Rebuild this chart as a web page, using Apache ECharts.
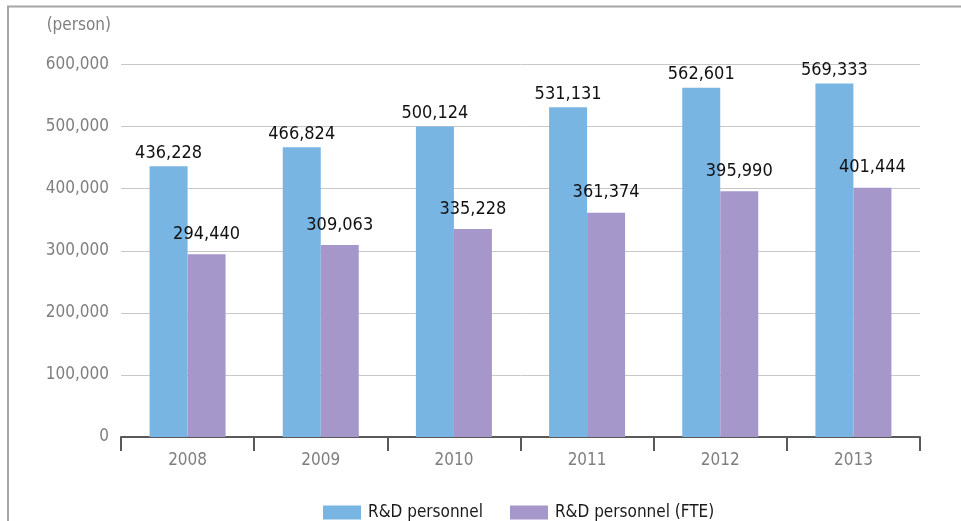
<!DOCTYPE html>
<html>
<head>
<meta charset="utf-8">
<script src="https://cdn.jsdelivr.net/npm/echarts@6/dist/echarts.min.js"></script>
<style>
  html, body { margin: 0; padding: 0; background: #fff; }
  #chart { width: 961px; height: 521px; }
</style>
</head>
<body>
<div id="chart"></div>
<script>
// Yearly R&D personnel headcount and full-time equivalent
const years = ['2008', '2009', '2010', '2011', '2012', '2013'];
const personnel = [436228, 466824, 500124, 531131, 562601, 569333];
const personnelFTE = [294440, 309063, 335228, 361374, 395990, 401444];
const seriesNames = ['R&D personnel', 'R&D personnel (FTE)'];
const yTicks = { min: 0, max: 600000, step: 100000 };
const unitLabel = '(person)';

const FONT = "'Liberation Sans Narrow', 'DejaVu Sans Condensed', 'Roboto', sans-serif";
const fmt = v => v.toLocaleString('en-US');

const chart = echarts.init(document.getElementById('chart'), null, { renderer: 'canvas' });

chart.setOption({
  backgroundColor: '#ffffff',
  animation: false,
  textStyle: { fontFamily: FONT },
  graphic: [{
    type: 'rect',
    shape: { x: 8, y: 6.5, width: 1000, height: 600 },
    style: { fill: 'none', stroke: '#a6a6a6', lineWidth: 2 },
    silent: true
  }],
  grid: { left: 121, right: 41, top: 64.5, bottom: 84, containLabel: false },
  legend: {
    top: 499,
    left: 318,
    itemWidth: 38,
    itemHeight: 14,
    itemGap: 27,
    icon: 'rect',
    textStyle: { fontFamily: FONT, fontSize: 17, color: '#1a1a1a', padding: [0, 0, 0, 2] },
    data: seriesNames
  },
  xAxis: {
    type: 'category',
    data: years,
    boundaryGap: true,
    axisLine: { show: true, lineStyle: { color: '#595959', width: 2 } },
    axisTick: { show: true, length: 14, alignWithLabel: false, lineStyle: { color: '#595959', width: 2 } },
    axisLabel: { color: '#7f7f7f', fontSize: 17, fontFamily: FONT, margin: 15 },
    splitLine: { show: false }
  },
  yAxis: {
    type: 'value',
    min: yTicks.min,
    max: yTicks.max,
    interval: yTicks.step,
    name: unitLabel,
    nameLocation: 'end',
    nameGap: 30,
    nameTextStyle: { color: '#7f7f7f', fontSize: 17, fontFamily: FONT, align: 'right', padding: [0, 10, 0, 0] },
    axisLine: { show: false },
    axisTick: { show: false },
    axisLabel: { color: '#7f7f7f', fontSize: 17, fontFamily: FONT, margin: 12, formatter: v => fmt(v) },
    splitLine: { show: true, lineStyle: { color: '#c8c8c8', width: 1 } }
  },
  series: [
    {
      name: seriesNames[0],
      type: 'bar',
      data: personnel,
      barWidth: 38,
      barGap: '0%',
      itemStyle: { color: '#78b5e3' },
      label: {
        show: true, position: 'top', distance: 4,
        color: '#111', fontSize: 18, fontFamily: FONT,
        formatter: p => fmt(p.value)
      }
    },
    {
      name: seriesNames[1],
      type: 'bar',
      data: personnelFTE,
      barWidth: 38,
      barGap: '0%',
      itemStyle: { color: '#a597ca' },
      label: {
        show: true, position: 'top', distance: 11,
        color: '#111', fontSize: 18, fontFamily: FONT,
        formatter: p => fmt(p.value)
      }
    }
  ]
});
</script>
</body>
</html>
